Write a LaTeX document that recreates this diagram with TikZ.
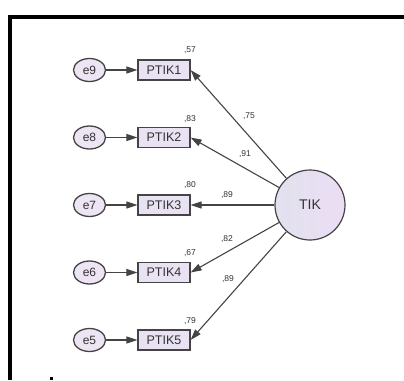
\documentclass[tikz,border=0pt]{standalone}
\usepackage{fontspec}
\setmainfont{Liberation Sans}
\usetikzlibrary{arrows.meta,shapes.geometric}
\definecolor{edge}{HTML}{444444}
\definecolor{boxfill}{HTML}{E9E2F2}
\definecolor{ellfill}{HTML}{EDE4F4}
\definecolor{latleft}{HTML}{E2E2EE}
\definecolor{latright}{HTML}{EBDDF4}
\definecolor{txt}{HTML}{333333}
\begin{document}
\begin{tikzpicture}[x=1pt,y=-1pt,
  errnode/.style={ellipse, draw=edge, line width=1.3pt, fill=ellfill, minimum width=32pt, minimum height=23pt, inner sep=0pt, font=\fontsize{12}{14}\selectfont, text=txt},
  obsnode/.style={rectangle, draw=edge, line width=1.2pt, fill=boxfill, minimum width=52pt, minimum height=20pt, inner sep=0pt, font=\fontsize{12.5}{14}\selectfont, text=txt},
  latnode/.style={circle, draw=edge, line width=1.2pt, minimum size=70pt, inner sep=0pt, left color=latleft, right color=latright, font=\fontsize{14}{16}\selectfont, text=txt},
  conn/.style={draw=edge, line width=1.1pt, -{Triangle[length=11pt,width=7pt]}},
  est/.style={font=\fontsize{8.5}{10}\selectfont, text=txt, inner sep=0pt}
]
\useasboundingbox (0,0) rectangle (404,380);
\fill[white] (0,0) rectangle (404,380);
% frame
\fill[black] (8,15) rectangle (404,19);
\fill[black] (8,15) rectangle (12,380);
\fill[black] (50,377) rectangle (53,380);
% nodes
\node[latnode] (TIK) at (310,205) {TIK};
\node[obsnode] (P1) at (164,70) {PTIK1};
\node[obsnode] (P2) at (164,137.5) {PTIK2};
\node[obsnode] (P3) at (164,205) {PTIK3};
\node[obsnode] (P4) at (164,272.5) {PTIK4};
\node[obsnode] (P5) at (164,340) {PTIK5};
\node[errnode] (e9) at (89.5,70) {e9};
\node[errnode] (e8) at (89.5,137.5) {e8};
\node[errnode] (e7) at (89.5,205) {e7};
\node[errnode] (e6) at (89.5,272.5) {e6};
\node[errnode] (e5) at (89.5,340) {e5};
% connectors
\draw[conn] (e9) -- (P1);
\draw[conn] (e8) -- (P2);
\draw[conn] (e7) -- (P3);
\draw[conn] (e6) -- (P4);
\draw[conn] (e5) -- (P5);
\draw[conn] (TIK) -- (P1.east);
\draw[conn] (TIK) -- (P2.east);
\draw[conn] (TIK) -- (P3.east);
\draw[conn] (TIK) -- (P4.east);
\draw[conn] (TIK) -- (P5.east);
% estimates
\node[est] (r1) at (190,50) {,57};
\node[est] (r2) at (190,119) {,83};
\node[est] (r3) at (190,185) {,80};
\node[est] (r4) at (190,253) {,67};
\node[est] (r5) at (190,321) {,79};
\node[est] (l1) at (249,116) {,75};
\node[est] (l2) at (245,154) {,91};
\node[est] (l3) at (227,195) {,89};
\node[est] (l4) at (227,239) {,82};
\node[est] (l5) at (228,279) {,89};
\end{tikzpicture}
\end{document}
